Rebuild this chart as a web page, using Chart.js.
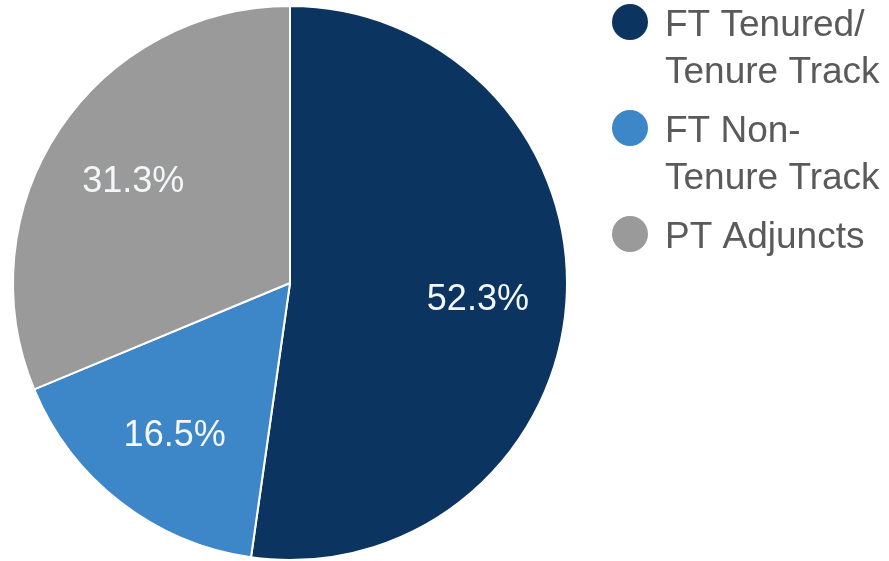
<!DOCTYPE html>
<html>
<head>
<meta charset="utf-8">
<script src="https://cdn.jsdelivr.net/npm/chart.js@4.4.0/dist/chart.umd.min.js"></script>
<style>
    body { margin: 0; background: #fff; }
    canvas { display: block; }
</style>
</head>
<body>
<canvas id="js-facultyPie" width="889" height="561"></canvas>
<script>
// Daten
const labels = [['FT Tenured/', 'Tenure Track'], ['FT Non-', 'Tenure Track'], ['PT Adjuncts']];
const shares = [52.3, 16.5, 31.3];
const colors = ['#0b3560', '#3d86c8', '#9a9a9a'];

const fontFamily = '"Liberation Sans", Arial, sans-serif';

// Prozentwerte in die Segmente schreiben
const sliceLabels = {
    id: 'sliceLabels',
    afterDatasetsDraw(chart) {
        const ctx = chart.ctx;
        const meta = chart.getDatasetMeta(0);
        ctx.save();
        ctx.font = '36px ' + fontFamily;
        ctx.fillStyle = '#f4f6f8';
        ctx.textAlign = 'center';
        ctx.textBaseline = 'alphabetic';
        meta.data.forEach((arc, i) => {
            const p = arc.getProps(['x', 'y', 'startAngle', 'endAngle', 'outerRadius'], true);
            const mid = (p.startAngle + p.endAngle) / 2;
            const r = p.outerRadius * 0.68;
            // Grundlinie ca. eine halbe Versalhöhe unter der Mitte
            ctx.fillText(shares[i].toFixed(1) + '%', p.x + Math.cos(mid) * r, p.y + Math.sin(mid) * r + 14);
        });
        ctx.restore();
    }
};

// Legende rechts, mit Zeilenumbruch
const sideLegend = {
    id: 'sideLegend',
    afterDraw(chart) {
        const ctx = chart.ctx;
        const lineHeight = 47;
        const itemGap = 12;
        let y = 36; // Grundlinie der ersten Zeile
        ctx.save();
        ctx.font = '37px ' + fontFamily;
        ctx.textBaseline = 'alphabetic';
        ctx.textAlign = 'left';
        labels.forEach((lines, i) => {
            ctx.fillStyle = colors[i];
            ctx.beginPath();
            ctx.arc(630, y - 14, 18, 0, Math.PI * 2);
            ctx.fill();
            ctx.fillStyle = '#5a5a5a';
            lines.forEach((line, j) => {
                ctx.fillText(line, 665, y + j * lineHeight);
            });
            y += lines.length * lineHeight + itemGap;
        });
        ctx.restore();
    }
};

const ctx = document.getElementById('js-facultyPie').getContext('2d');
const facultyPie = new Chart(ctx, {
    type: 'pie',
    data: {
        labels: labels,
        datasets: [{
            data: shares,
            backgroundColor: colors,
            borderColor: '#ffffff',
            borderWidth: 2
        }]
    },
    options: {
        responsive: false,
        animation: false,
        layout: {
            padding: { left: 0, right: 309, top: 5, bottom: 0 }
        },
        plugins: {
            legend: { display: false },
            tooltip: { enabled: false }
        }
    },
    plugins: [sliceLabels, sideLegend]
});
</script>
</body>
</html>
